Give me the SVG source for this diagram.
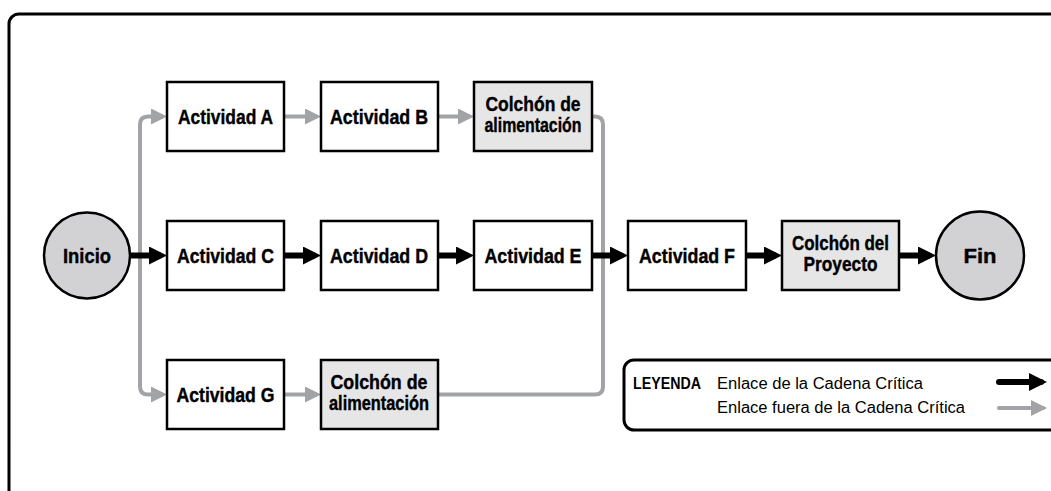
<svg xmlns="http://www.w3.org/2000/svg" width="1051" height="491" viewBox="0 0 1051 491">
<defs>
<style>
.frame{fill:#fff;stroke:#000;stroke-width:3}
.box{fill:#fff;stroke:#000;stroke-width:2.5}
.buf{fill:#e6e6e7;stroke:#000;stroke-width:2.5}
.term{fill:#d2d2d4;stroke:#000;stroke-width:2.5}
.lbl{font-family:"Liberation Sans",Arial,sans-serif;font-weight:bold;font-size:20px;fill:#000;stroke:#000;stroke-width:0.4;text-anchor:middle}
.crit{fill:none;stroke:#000;stroke-width:6}
.feed{fill:none;stroke:#a2a3a6;stroke-width:4}
.leg{font-family:"Liberation Sans",Arial,sans-serif;font-size:16px;fill:#000}
.legb{font-family:"Liberation Sans",Arial,sans-serif;font-size:17px;font-weight:bold;fill:#000}
</style>
<marker id="ahB" viewBox="0 0 18 18" refX="12" refY="9" markerWidth="18" markerHeight="18" markerUnits="userSpaceOnUse" orient="auto"><path d="M0,0 L18,9 L0,18 Z" fill="#000"/></marker>
<marker id="ahG" viewBox="0 0 16 16" refX="12" refY="8" markerWidth="16" markerHeight="16" markerUnits="userSpaceOnUse" orient="auto"><path d="M0,0 L16,8 L0,16 Z" fill="#a2a3a6"/></marker>
</defs>
<rect class="frame" x="9" y="14" width="1100" height="600" rx="10"/>
<g id="connectors">
<path class="feed" d="M140,255 V124.5 Q140,116.5 148,116.5 H163" marker-end="url(#ahG)"/>
<path class="feed" d="M140,255 V386.5 Q140,394.5 148,394.5 H163" marker-end="url(#ahG)"/>
<path class="feed" d="M284,116.5 H317" marker-end="url(#ahG)"/>
<path class="feed" d="M438,116.5 H470" marker-end="url(#ahG)"/>
<path class="feed" d="M284,394.5 H317" marker-end="url(#ahG)"/>
<path class="feed" d="M592,116.5 H595 Q603,116.5 603,124.5 V386.5 Q603,394.5 595,394.5 H438"/>
<path class="crit" d="M130,255.5 H161" marker-end="url(#ahB)"/>
<path class="crit" d="M284,255.5 H315" marker-end="url(#ahB)"/>
<path class="crit" d="M438,255.5 H468" marker-end="url(#ahB)"/>
<path class="crit" d="M592,255.5 H622" marker-end="url(#ahB)"/>
<path class="crit" d="M746,255.5 H776" marker-end="url(#ahB)"/>
<path class="crit" d="M899,255.5 H930" marker-end="url(#ahB)"/>
</g>
<g id="inicio"><circle class="term" cx="87" cy="255.5" r="43"/><text class="lbl" x="87" y="262.5" textLength="48" lengthAdjust="spacingAndGlyphs">Inicio</text></g>
<g id="actA"><rect class="box" x="167" y="82" width="117" height="69"/><text class="lbl" x="225.5" y="123.5" textLength="95" lengthAdjust="spacingAndGlyphs">Actividad A</text></g>
<g id="actB"><rect class="box" x="321" y="82" width="117" height="69"/><text class="lbl" x="379" y="123.5" textLength="98" lengthAdjust="spacingAndGlyphs">Actividad B</text></g>
<g id="buf1"><rect class="buf" x="474" y="82" width="118" height="69"/><text class="lbl" x="533" y="110.5" textLength="95" lengthAdjust="spacingAndGlyphs">Colchón de</text><text class="lbl" x="533" y="131.5" textLength="97" lengthAdjust="spacingAndGlyphs">alimentación</text></g>
<g id="actC"><rect class="box" x="167" y="221" width="117" height="69"/><text class="lbl" x="225.5" y="262.5" textLength="97" lengthAdjust="spacingAndGlyphs">Actividad C</text></g>
<g id="actD"><rect class="box" x="321" y="221" width="117" height="69"/><text class="lbl" x="379" y="262.5" textLength="98" lengthAdjust="spacingAndGlyphs">Actividad D</text></g>
<g id="actE"><rect class="box" x="474" y="221" width="118" height="69"/><text class="lbl" x="533" y="262.5" textLength="97" lengthAdjust="spacingAndGlyphs">Actividad E</text></g>
<g id="actF"><rect class="box" x="628" y="221" width="118" height="69"/><text class="lbl" x="687" y="262.5" textLength="96" lengthAdjust="spacingAndGlyphs">Actividad F</text></g>
<g id="bufP"><rect class="buf" x="782" y="221" width="117" height="69"/><text class="lbl" x="840.5" y="249.5" textLength="97" lengthAdjust="spacingAndGlyphs">Colchón del</text><text class="lbl" x="840.5" y="270.5" textLength="74" lengthAdjust="spacingAndGlyphs">Proyecto</text></g>
<g id="fin"><circle class="term" cx="980" cy="255.5" r="44"/><text class="lbl" x="980" y="262.5" textLength="33" lengthAdjust="spacingAndGlyphs">Fin</text></g>
<g id="actG"><rect class="box" x="167" y="360" width="117" height="69"/><text class="lbl" x="225.5" y="401.5" textLength="98" lengthAdjust="spacingAndGlyphs">Actividad G</text></g>
<g id="buf2"><rect class="buf" x="321" y="360" width="117" height="69"/><text class="lbl" x="379" y="388.5" textLength="97" lengthAdjust="spacingAndGlyphs">Colchón de</text><text class="lbl" x="379" y="409.5" textLength="100" lengthAdjust="spacingAndGlyphs">alimentación</text></g>
<g id="legend">
<rect class="frame" x="624" y="360" width="500" height="70" rx="10" stroke-width="2.5"/>
<text class="legb" x="633" y="389" textLength="68" lengthAdjust="spacingAndGlyphs">LEYENDA</text>
<text class="leg" x="717" y="389" textLength="206" lengthAdjust="spacingAndGlyphs">Enlace de la Cadena Crítica</text>
<text class="leg" x="717" y="413" textLength="248" lengthAdjust="spacingAndGlyphs">Enlace fuera de la Cadena Crítica</text>
<path class="crit" d="M999,382 H1041" stroke-linecap="round" marker-end="url(#ahB)"/>
<path class="feed" d="M999,408 H1043" stroke-linecap="round" marker-end="url(#ahG)"/>
</g>
</svg>
